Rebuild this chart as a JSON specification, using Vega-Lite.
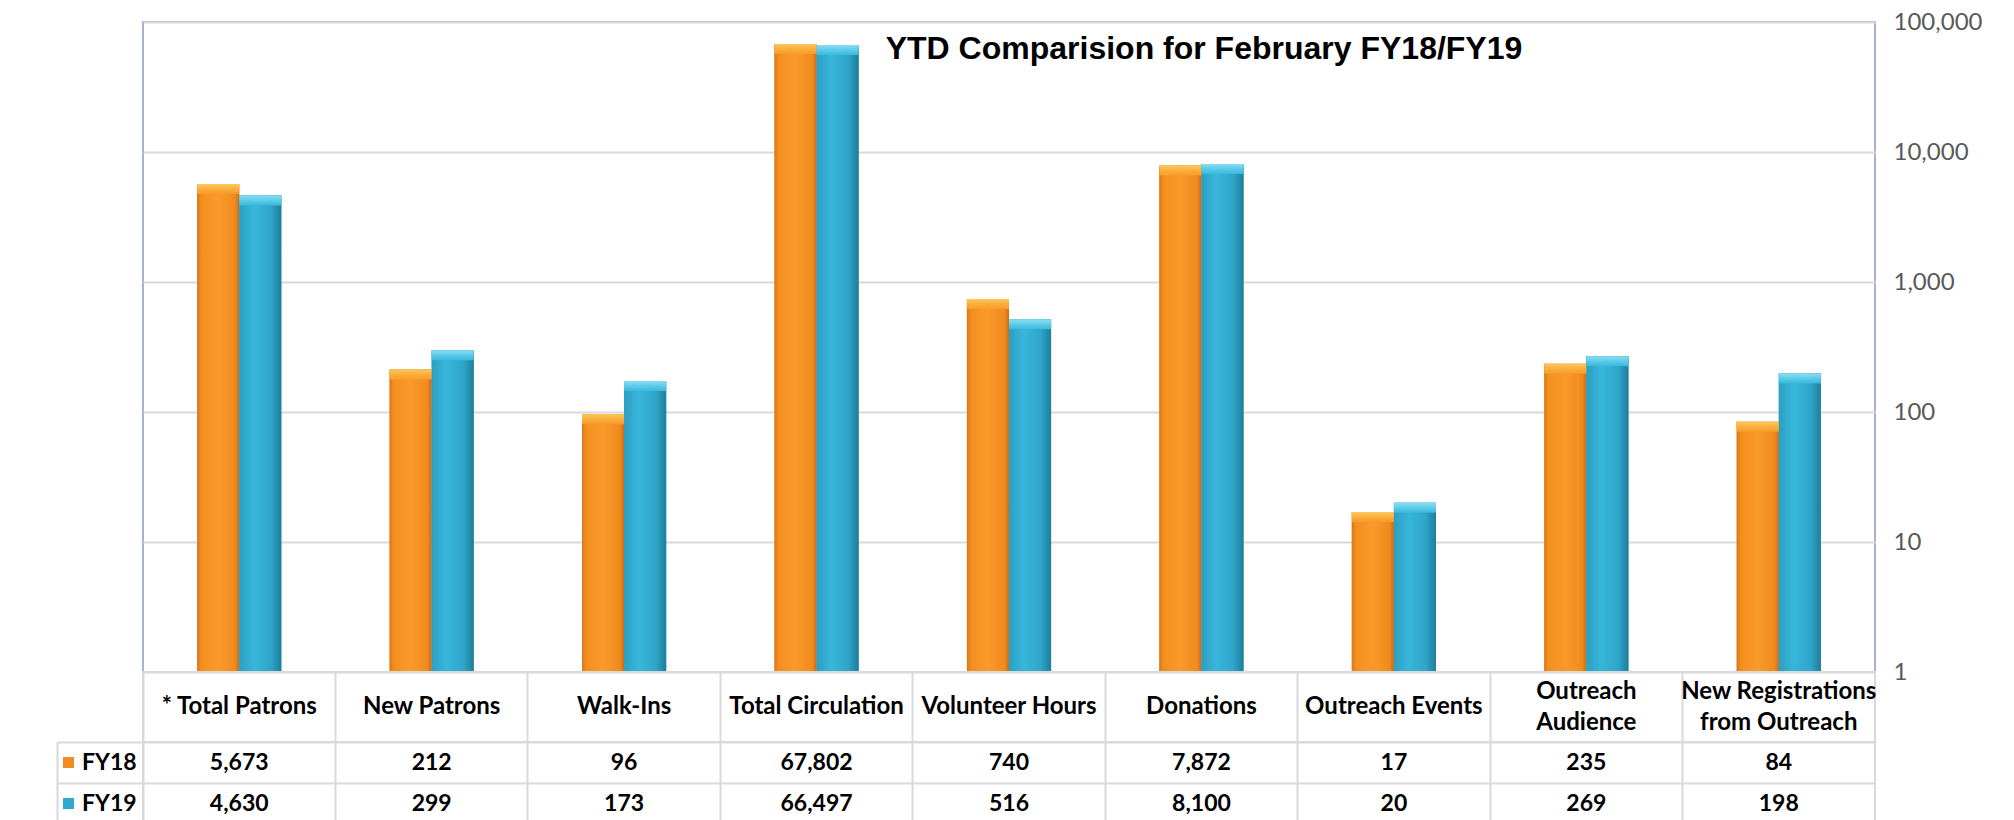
{
  "$schema": "https://vega.github.io/schema/vega-lite/v6.json",
  "padding": {"left": 55, "top": 9, "right": 30, "bottom": 0},
  "background": "white",
  "config": {"font": "Lato", "view": {"stroke": null}},
  "datasets": {
    "d": [
      {"category": "* Total Patrons", "series": "FY18", "value": 5673},
      {"category": "* Total Patrons", "series": "FY19", "value": 4630},
      {"category": "New Patrons", "series": "FY18", "value": 212},
      {"category": "New Patrons", "series": "FY19", "value": 299},
      {"category": "Walk-Ins", "series": "FY18", "value": 96},
      {"category": "Walk-Ins", "series": "FY19", "value": 173},
      {"category": "Total Circulation", "series": "FY18", "value": 67802},
      {"category": "Total Circulation", "series": "FY19", "value": 66497},
      {"category": "Volunteer Hours", "series": "FY18", "value": 740},
      {"category": "Volunteer Hours", "series": "FY19", "value": 516},
      {"category": "Donations", "series": "FY18", "value": 7872},
      {"category": "Donations", "series": "FY19", "value": 8100},
      {"category": "Outreach Events", "series": "FY18", "value": 17},
      {"category": "Outreach Events", "series": "FY19", "value": 20},
      {"category": "Outreach\nAudience", "series": "FY18", "value": 235},
      {"category": "Outreach\nAudience", "series": "FY19", "value": 269},
      {"category": "New Registrations\nfrom Outreach", "series": "FY18", "value": 84},
      {"category": "New Registrations\nfrom Outreach", "series": "FY19", "value": 198}
    ]
  },
  "spacing": 0,
  "bounds": "flush",
  "vconcat": [
    {
      "width": 1732,
      "height": 650,
      "view": {"stroke": "#8a9cc2", "strokeWidth": 1.5},
      "title": {
        "text": "YTD Comparision for February FY18/FY19",
        "font": "Liberation Sans",
        "fontSize": 32,
        "fontWeight": "bold",
        "color": "black",
        "anchor": "middle",
        "frame": "group",
        "orient": "top",
        "offset": -26,
        "baseline": "middle",
        "dx": 195,
        "dy": 45
      },
      "data": {"name": "d"},
      "encoding": {
        "x": {"field": "category", "type": "nominal", "sort": null, "scale": {"type": "band", "paddingInner": 0.5625, "paddingOuter": 0.28125}, "axis": null},
        "xOffset": {"field": "series", "type": "nominal", "scale": {"domain": ["FY18", "FY19"], "paddingInner": 0, "paddingOuter": 0}},
        "y": {
          "field": "value", "type": "quantitative",
          "scale": {"type": "log", "domain": [1, 100000], "nice": false},
          "axis": {
            "orient": "right", "values": [1, 10, 100, 1000, 10000, 100000], "format": ",",
            "grid": true, "gridColor": "#d9d9d9", "gridWidth": 2, "domain": false, "ticks": false,
            "labelFont": "Lato", "labelFontSize": 24, "labelColor": "#595959", "labelPadding": 18, "title": null
          }
        }
      },
      "layer": [
        {
          "mark": {"type": "bar"},
          "encoding": {
            "y2": {"datum": 1},
            "color": {
              "field": "series", "type": "nominal",
              "scale": {"domain": ["FY18", "FY19"], "range": ["#ef8d22", "#2fa8cc"]},
              "legend": {
                "orient": "none", "legendX": -86, "legendY": 729, "direction": "vertical", "title": null,
                "symbolType": "square", "symbolSize": 121, "symbolStrokeWidth": 0,
                "labelFont": "Lato", "labelFontWeight": "bold", "labelFontSize": 23, "labelColor": "black",
                "labelOffset": 2, "rowPadding": 17, "padding": 0
              }
            }
          }
        },
        {
          "transform": [{"filter": "datum.series === 'FY18'"}],
          "mark": {
            "type": "bar",
            "color": {"gradient": "linear", "x1": 0, "x2": 1, "y1": 0, "y2": 0,
              "stops": [
                {"offset": 0, "color": "#d9761d"},
                {"offset": 0.1, "color": "#f38f1f"},
                {"offset": 0.5, "color": "#f99a2a"},
                {"offset": 0.9, "color": "#f18a1c"},
                {"offset": 1, "color": "#c86c1a"}
              ]}
          },
          "encoding": {"y2": {"datum": 1}}
        },
        {
          "transform": [{"filter": "datum.series === 'FY19'"}],
          "mark": {
            "type": "bar",
            "color": {"gradient": "linear", "x1": 0, "x2": 1, "y1": 0, "y2": 0,
              "stops": [
                {"offset": 0, "color": "#2b9fc2"},
                {"offset": 0.35, "color": "#38b6da"},
                {"offset": 0.75, "color": "#2ea6ca"},
                {"offset": 1, "color": "#1d7e9b"}
              ]}
          },
          "encoding": {"y2": {"datum": 1}}
        },
        {
          "transform": [{"filter": "datum.series === 'FY18'"}],
          "mark": {
            "type": "bar", "y2Offset": 10,
            "color": {"gradient": "linear", "x1": 0, "x2": 0, "y1": 0, "y2": 1,
              "stops": [
                {"offset": 0, "color": "#fcc85c"},
                {"offset": 0.5, "color": "#faae3e"},
                {"offset": 1, "color": "#f89b29"}
              ]}
          },
          "encoding": {"y2": {"field": "value"}}
        },
        {
          "transform": [{"filter": "datum.series === 'FY19'"}],
          "mark": {
            "type": "bar", "y2Offset": 10,
            "color": {"gradient": "linear", "x1": 0, "x2": 0, "y1": 0, "y2": 1,
              "stops": [
                {"offset": 0, "color": "#8adef4"},
                {"offset": 0.5, "color": "#5ccbea"},
                {"offset": 1, "color": "#3ab8dc"}
              ]}
          },
          "encoding": {"y2": {"field": "value"}}
        }
      ]
    },
    {
      "width": 1732,
      "height": 70,
      "view": {"stroke": "#d9d9d9", "strokeWidth": 2},
      "data": {"name": "d"},
      "transform": [{"filter": "datum.series === 'FY18'"}],
      "encoding": {
        "x": {
          "field": "category", "type": "nominal", "sort": null,
          "scale": {"type": "band", "paddingInner": 0, "paddingOuter": 0},
          "axis": {"title": null, "labels": false, "ticks": false, "domain": false, "grid": true, "gridColor": "#d9d9d9", "gridWidth": 2, "bandPosition": 0}
        },
        "text": {"field": "category", "type": "nominal"}
      },
      "layer": [
        {
          "transform": [{"filter": "indexof(datum.category, '\\n') < 0"}],
          "mark": {"type": "text", "font": "Lato", "fontWeight": "bold", "fontSize": 24, "color": "black"}
        },
        {
          "transform": [{"filter": "indexof(datum.category, '\\n') >= 0"}],
          "mark": {"type": "text", "font": "Lato", "fontWeight": "bold", "fontSize": 24, "lineBreak": "\n", "lineHeight": 31, "dy": -15, "color": "black"}
        }
      ]
    },
    {
      "width": 1732,
      "height": 82,
      "view": {"stroke": "#d9d9d9", "strokeWidth": 2},
      "data": {"name": "d"},
      "mark": {"type": "text", "font": "Lato", "fontWeight": "bold", "fontSize": 23, "color": "black"},
      "encoding": {
        "x": {
          "field": "category", "type": "nominal", "sort": null,
          "scale": {"type": "band", "paddingInner": 0, "paddingOuter": 0},
          "axis": {"title": null, "labels": false, "ticks": false, "domain": false, "grid": true, "gridColor": "#d9d9d9", "gridWidth": 2, "bandPosition": 0}
        },
        "y": {
          "field": "series", "type": "nominal",
          "scale": {"type": "band", "domain": ["FY18", "FY19"], "paddingInner": 0, "paddingOuter": 0},
          "axis": {"orient": "left", "offset": 86, "title": null, "labels": false, "domain": true, "domainColor": "#d9d9d9", "domainWidth": 2, "ticks": true, "tickSize": -86, "tickColor": "#d9d9d9", "tickWidth": 2, "bandPosition": 1, "tickExtra": true, "grid": true, "gridColor": "#d9d9d9", "gridWidth": 2}
        },
        "text": {"field": "value", "type": "quantitative", "format": ","}
      }
    }
  ]
}
